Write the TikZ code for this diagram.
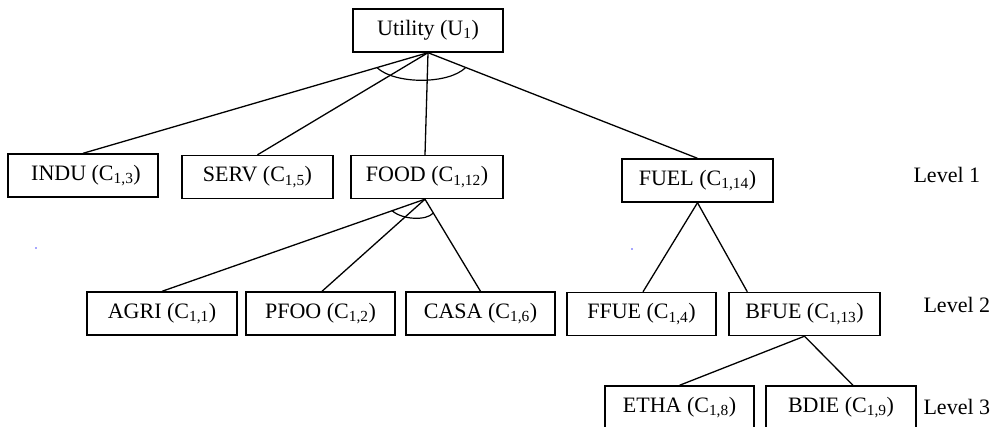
\documentclass[tikz,border=0pt]{standalone}
\usepackage{fontspec}
\setmainfont{Liberation Serif}
\usetikzlibrary{calc}
\begin{document}
\begin{tikzpicture}[x=1pt,y=-1pt,
  every node/.style={font=\fontsize{22}{26}\selectfont},
  box/.style={draw,line width=1.4pt,minimum height=43pt,inner sep=0pt},
  link/.style={line width=1.3pt},
  andarc/.style={line width=1.2pt},
  lvl/.style={anchor=west}]
\useasboundingbox (0,0) rectangle (998,426);
\clip (0,0) rectangle (998,426);

% root
\node[box,minimum width=150pt] (utility) at (428,30.5) {Utility (U\textsubscript{1})};

% level 1
\node[box,minimum width=150pt] (indu) at (83,175.5) {\hspace{6pt}INDU (C\textsubscript{1,3})};
\node[box,minimum width=151pt] (serv) at (257.5,177) {SERV (C\textsubscript{1,5})};
\node[box,minimum width=152pt] (food) at (427,177) {FOOD (C\textsubscript{1,12})};
\node[box,minimum width=151pt] (fuel) at (697.5,180.5) {FUEL (C\textsubscript{1,14})};

% level 2
\node[box,minimum width=150pt] (agri) at (162,313.5) {AGRI (C\textsubscript{1,1})};
\node[box,minimum width=149pt] (pfoo) at (320.5,313.5) {PFOO (C\textsubscript{1,2})};
\node[box,minimum width=149pt] (casa) at (480.5,313.5) {CASA (C\textsubscript{1,6})};
\node[box,minimum width=149pt] (ffue) at (641.5,314) {FFUE (C\textsubscript{1,4})};
\node[box,minimum width=151pt] (bfue) at (804.5,314) {BFUE (C\textsubscript{1,13})};

% level 3
\node[box,minimum width=149pt] (etha) at (679.5,407.5) {ETHA (C\textsubscript{1,8})};
\node[box,minimum width=150pt] (bdie) at (841,407.5) {BDIE (C\textsubscript{1,9})};

% level labels
\node[lvl] (lv1) at (910,175) {Level 1};
\node[lvl] (lv2) at (920,305) {Level 2};
\node[lvl] (lv3) at (920,407) {Level 3};

% connectors
\coordinate (uapex) at (utility.south);
\coordinate (fapex) at ([xshift=-2pt]food.south);
\draw[link] (uapex) -- (indu.north);
\draw[link] (uapex) -- (serv.north);
\draw[link] (uapex) -- ([xshift=-2pt]food.north);
\draw[link] (uapex) -- (fuel.north);

\draw[link] (fapex) -- (agri.north);
\draw[link] (fapex) -- ([xshift=1.5pt]pfoo.north);
\draw[link] (fapex) -- (casa.north);

\draw[link] (fuel.south) -- ([xshift=1.5pt]ffue.north);
\draw[link] (fuel.south) -- ([xshift=19pt]bfue.north west);

\draw[link] (bfue.south) -- (etha.north);
\draw[link] (bfue.south) -- ([xshift=12pt]bdie.north);

% AND arcs
\draw[andarc] ($(uapex)!0.148!(indu.north)$) .. controls +(18,17) and +(-17,17) .. ($(uapex)!0.14!(fuel.north)$);
\draw[andarc] ($(fapex)!0.125!(agri.north)$) .. controls +(10,9) and +(-7,8) .. ($(fapex)!0.15!(casa.north)$);

% stray marks
\fill[blue!70] (36,248) circle (0.8);
\fill[blue!70] (632,249) circle (0.8);
\end{tikzpicture}
\end{document}
